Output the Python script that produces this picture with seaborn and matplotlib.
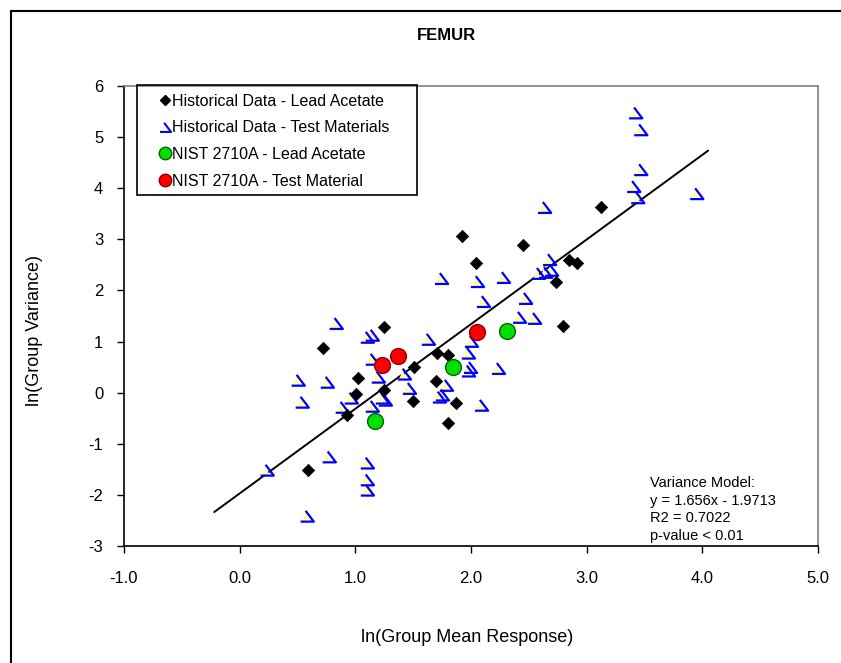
import numpy as np
import pandas as pd
import matplotlib
matplotlib.use("Agg")
import matplotlib.pyplot as plt
import seaborn as sns
from matplotlib.path import Path
from matplotlib.lines import Line2D
from matplotlib.patches import Rectangle

# ---------------- data ----------------
hist_la_x = [1.918, 2.446, 2.039, 3.121, 2.844, 2.913, 2.732, 2.792, 0.593, 0.723, 1.251,
             1.026, 1.009, 1.251, 0.931, 1.511, 1.701, 1.502, 1.710, 1.805, 1.874, 1.805]
hist_la_y = [3.07, 2.88, 2.53, 3.64, 2.60, 2.54, 2.17, 1.31, -1.52, 0.87, 1.28,
             0.28, -0.03, 0.06, -0.44, 0.51, 0.22, -0.17, 0.77, 0.73, -0.21, -0.60]

hist_tm_x = [3.424, 3.468, 3.468, 3.407, 3.442, 3.952, 2.636, 1.745, 2.056, 2.281, 2.108,
             2.472, 2.680, 2.584, 2.645, 2.697, 2.420, 2.550, 1.632, 2.004, 1.978, 1.996,
             1.978, 2.238, 1.424, 1.468, 1.788, 1.727, 1.753, 2.091, 0.835, 1.104, 1.147,
             1.147, 0.506, 0.758, 0.541, 0.887, 0.965, 1.199, 1.147, 1.234, 1.260, 0.238,
             0.775, 1.104, 1.104, 1.104, 0.584]
hist_tm_y = [5.47, 5.14, 4.36, 4.03, 3.81, 3.89, 3.62, 2.23, 2.17, 2.25, 1.78,
             1.84, 2.60, 2.33, 2.35, 2.39, 1.47, 1.45, 1.04, 1.00, 0.77, 0.49,
             0.42, 0.47, 0.36, 0.08, 0.14, -0.09, -0.05, -0.25, 1.35, 1.08, 1.12,
             0.65, 0.24, 0.20, -0.19, -0.29, -0.11, 0.30, -0.27, -0.11, -0.15, -1.52,
             -1.26, -1.38, -1.71, -1.91, -2.42]

nist_la_x = [1.171, 1.842, 2.313]
nist_la_y = [-0.55, 0.51, 1.20]

nist_tm_x = [1.228, 1.372, 2.056]
nist_tm_y = [0.54, 0.71, 1.18]

slope = 1.656
intercept = -1.9713
fit_x_range = [-0.22, 4.05]

legend_labels = ["Historical Data - Lead Acetate", "Historical Data - Test Materials",
                 "NIST 2710A - Lead Acetate", "NIST 2710A - Test Material"]
model_lines = ["Variance Model:", "y = 1.656x - 1.9713", "R2 = 0.7022", "p-value < 0.01"]
x_ticks = [-1.0, 0.0, 1.0, 2.0, 3.0, 4.0, 5.0]
y_ticks = [-3, -2, -1, 0, 1, 2, 3, 4, 5, 6]

# ---------------- style ----------------
sns.set_theme(style="white")
plt.rcParams['font.family'] = ['Liberation Sans', 'DejaVu Sans']

W, H = 841, 663
fig = plt.figure(figsize=(W / 100, H / 100), dpi=100)
fig.patch.set_facecolor("white")
L, R, T, B = 124, 818, 86, 546
ax = fig.add_axes([L / W, 1 - B / H, (R - L) / W, (B - T) / H])
ax.set_facecolor("white")

# outer chart border (extends past right/bottom edges)
fig.add_artist(Rectangle((11 / W, -0.2), 1.3, 1 - 11 / H + 0.2, transform=fig.transFigure,
                         fill=False, edgecolor="black", linewidth=1.5))

# marker paths (open blue stroke + pale yellow wedge)
TOP = (-0.25, 0.85)
RB = (1.0, -0.8)
LB = (-1.0, -0.8)
open_marker = Path([TOP, RB, LB], [Path.MOVETO, Path.LINETO, Path.LINETO])
fill_verts = [(-0.75, -0.68), (-0.32, 0.6), (0.4, -0.68), (-0.75, -0.68)]
fill_marker = Path(fill_verts, [Path.MOVETO, Path.LINETO, Path.LINETO, Path.CLOSEPOLY])
fill_scale = max(abs(v) for p in fill_verts for v in p)  # marker normalisation factor
S_TM = 90

# regression line
fx = np.array(fit_x_range)
fit_df = pd.DataFrame({"x": fx, "y": slope * fx + intercept})
sns.lineplot(data=fit_df, x="x", y="y", ax=ax, color="black", linewidth=1.4, zorder=2)

# historical test materials
tm_df = pd.DataFrame({"x": hist_tm_x, "y": hist_tm_y})
sns.scatterplot(data=tm_df, x="x", y="y", ax=ax, marker=fill_marker, s=S_TM * fill_scale ** 2,
                facecolor="#FFFF99", edgecolor="none", linewidth=0, zorder=3)
sns.scatterplot(data=tm_df, x="x", y="y", ax=ax, marker=open_marker, s=S_TM,
                facecolor="none", edgecolor="#0000FF", linewidth=1.6, zorder=4)

# historical lead acetate
la_df = pd.DataFrame({"x": hist_la_x, "y": hist_la_y})
sns.scatterplot(data=la_df, x="x", y="y", ax=ax, marker="D", s=40,
                color="black", edgecolor="black", linewidth=0.5, zorder=5)

# NIST
sns.scatterplot(x=nist_la_x, y=nist_la_y, ax=ax, marker="o", s=130,
                color="#00E000", edgecolor="#006400", linewidth=1.0, zorder=6)
sns.scatterplot(x=nist_tm_x, y=nist_tm_y, ax=ax, marker="o", s=130,
                color="#FF0000", edgecolor="#8B0000", linewidth=1.0, zorder=6)

# axes
ax.set_xlim(-1.0, 5.0)
ax.set_ylim(-3, 6)
ax.set_xticks(x_ticks)
ax.set_xticklabels([f"{v:.1f}" for v in x_ticks])
ax.set_yticks(y_ticks)
ax.set_yticklabels([str(v) for v in y_ticks])
ax.tick_params(axis="x", direction="out", length=5, width=1, color="black", pad=13,
               labelsize=12, labelcolor="black", bottom=True)
ax.tick_params(axis="y", direction="out", length=5, width=1, color="black", pad=10,
               labelsize=12, labelcolor="black", left=True)
for side in ["left", "bottom"]:
    ax.spines[side].set_color("black")
    ax.spines[side].set_linewidth(1.2)
for side in ["top", "right"]:
    ax.spines[side].set_color("#808080")
    ax.spines[side].set_linewidth(1.2)
ax.grid(False)

ax.set_xlabel("ln(Group Mean Response)", fontsize=13, color="black", va="center")
ax.xaxis.set_label_coords((467 - L) / (R - L), (B - 637) / (B - T))
ax.set_ylabel("ln(Group Variance)", fontsize=13, color="black", va="center", ha="center")
ax.yaxis.set_label_coords((35 - L) / (R - L), (B - 330) / (B - T))

fig.text(446 / W, 1 - 35 / H, "FEMUR", ha="center", va="center", fontsize=12,
         fontweight="bold", color="black")

# model annotation
for i, line in enumerate(model_lines):
    fig.text(650 / W, 1 - (483 + 17.7 * i) / H, line, ha="left", va="center",
             fontsize=10.5, color="black")

# legend
handles = [
    Line2D([], [], marker="D", linestyle="", color="black", markersize=5.5),
    Line2D([], [], marker=open_marker, linestyle="", markerfacecolor="none",
           markeredgecolor="#0000FF", markeredgewidth=1.5, markersize=8),
    Line2D([], [], marker="o", linestyle="", markerfacecolor="#00E000",
           markeredgecolor="#006400", markersize=9),
    Line2D([], [], marker="o", linestyle="", markerfacecolor="#FF0000",
           markeredgecolor="#8B0000", markersize=9),
]
leg = ax.legend(handles, legend_labels, loc="upper left", frameon=False,
                bbox_to_anchor=(157 / W, 1 - 94 / H), bbox_transform=fig.transFigure,
                borderpad=0, borderaxespad=0, handlelength=1.0, handletextpad=-0.05,
                labelspacing=0.72, fontsize=11.5)
for t in leg.get_texts():
    t.set_color("black")
fig.add_artist(Rectangle((137 / W, 1 - 195 / H), (417 - 137) / W, (195 - 85) / H,
                         transform=fig.transFigure, fill=False, edgecolor="black",
                         linewidth=1.2, zorder=10))

fig.savefig("out.png", dpi=100, facecolor="white")
